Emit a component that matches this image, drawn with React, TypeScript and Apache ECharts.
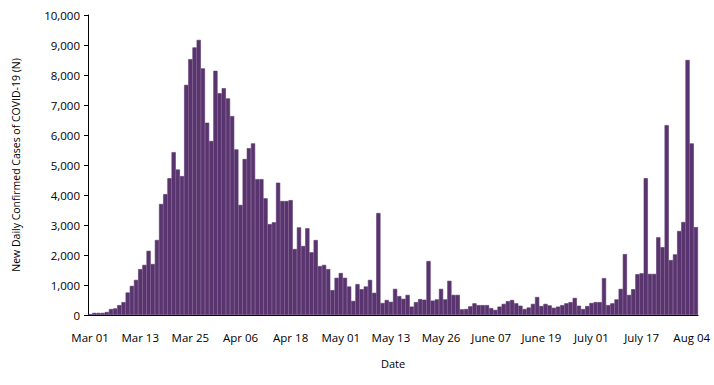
import React, { useEffect, useRef } from "react";
import * as echarts from "echarts";

const tickLabels = [
  "Mar 01", "Mar 13", "Mar 25", "Apr 06", "Apr 18", "May 01", "May 13",
  "May 26", "June 07", "June 19", "July 01", "July 17", "Aug 04",
];

const dailyCases = [
  30, 70, 70, 70, 100, 200, 220, 330, 430, 750, 970, 1170,
  1530, 1670, 2140, 1700, 2500, 3700, 4030, 4560, 5430, 4850, 4630, 7670,
  8530, 8920, 9170, 8220, 6410, 5800, 8140, 7390, 7560, 7220, 6630, 5520,
  3670, 5200, 5560, 5720, 4530, 4530, 3890, 3030, 3090, 4410, 3800, 3800,
  3830, 2200, 2920, 2300, 2890, 2090, 2500, 1630, 1670, 1530, 830, 1240,
  1400, 1240, 950, 470, 1030, 860, 950, 1170, 740, 3400, 400, 500,
  440, 870, 630, 540, 670, 280, 430, 530, 510, 1800, 480, 520,
  870, 520, 1140, 670, 670, 190, 200, 290, 390, 330, 330, 330,
  230, 170, 280, 370, 460, 500, 390, 310, 200, 250, 370, 600,
  300, 370, 320, 240, 280, 330, 390, 430, 570, 310, 200, 300,
  400, 430, 430, 1230, 330, 390, 520, 870, 2030, 670, 860, 1360,
  1390, 4560, 1370, 1370, 2590, 2260, 6330, 1830, 2020, 2800, 3100, 8500,
  5720, 2930,
];

const LABEL_STEP = 12;

const categories = dailyCases.map((_, i) =>
  i % LABEL_STEP === 0 && tickLabels[i / LABEL_STEP]
    ? tickLabels[i / LABEL_STEP]
    : `day-${i + 1}`
);

const FONT = "Open Sans";
const BAR_COLOR = "#59346F";

export default function App() {
  const ref = useRef<HTMLDivElement>(null);

  useEffect(() => {
    if (!ref.current) return;
    const chart = echarts.init(ref.current, undefined, { renderer: "svg" });
    chart.setOption({
      animation: false,
      grid: { left: 88, right: 16, top: 15, bottom: 70 },
      xAxis: {
        type: "category",
        data: categories,
        boundaryGap: true,
        name: "Date",
        nameLocation: "middle",
        nameGap: 43,
        nameTextStyle: { fontFamily: FONT, fontSize: 11, color: "#000" },
        axisLine: { lineStyle: { color: "#000", width: 1 } },
        axisTick: { interval: 0, length: 4, lineStyle: { color: "#000" } },
        axisLabel: {
          interval: LABEL_STEP - 1,
          margin: 16,
          fontFamily: FONT,
          fontSize: 11.5,
          color: "#000",
        },
        splitLine: { show: false },
      },
      yAxis: {
        type: "value",
        min: 0,
        max: 10000,
        interval: 1000,
        name: "New Daily Confirmed Cases of COVID-19 (N)",
        nameLocation: "middle",
        nameGap: 67,
        nameTextStyle: { fontFamily: FONT, fontSize: 10.5, color: "#000" },
        axisLine: { show: true, lineStyle: { color: "#000", width: 1 } },
        axisTick: { show: true, length: 4, lineStyle: { color: "#000" } },
        axisLabel: {
          margin: 8,
          fontFamily: FONT,
          fontSize: 11.5,
          color: "#000",
          formatter: (v: number) => v.toLocaleString("en-US"),
        },
        splitLine: { show: false },
      },
      series: [
        {
          type: "bar",
          data: dailyCases,
          barCategoryGap: "0%",
          itemStyle: { color: BAR_COLOR, borderColor: BAR_COLOR, borderWidth: 0.6 },
        },
      ],
    });
    return () => chart.dispose();
  }, []);

  return (
    <div
      ref={ref}
      style={{ position: "absolute", left: 0, top: 0, width: 714, height: 385 }}
    />
  );
}
